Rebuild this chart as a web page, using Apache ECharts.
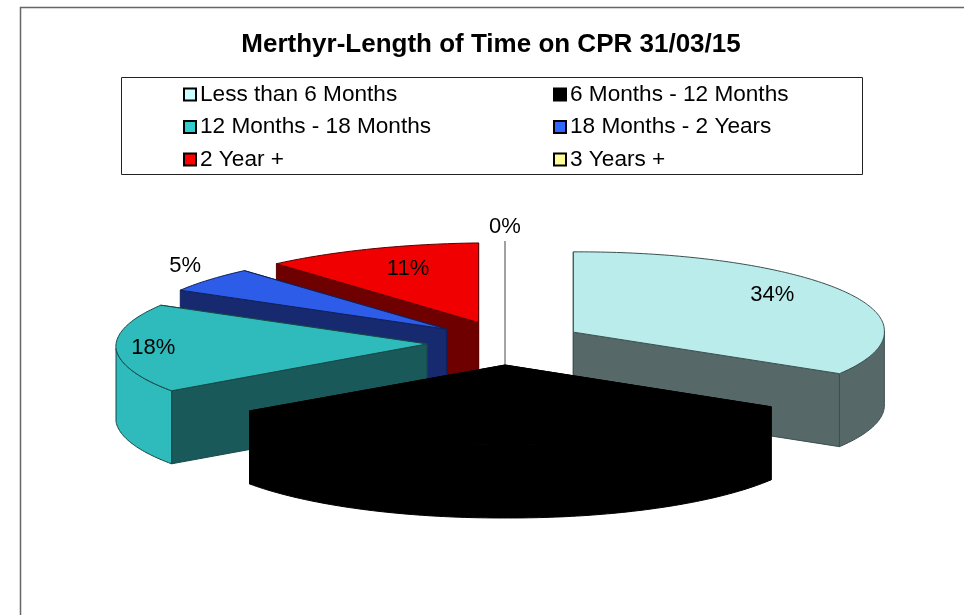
<!DOCTYPE html>
<html>
<head>
<meta charset="utf-8">
<title>Merthyr-Length of Time on CPR</title>
<style>
  html, body { margin: 0; padding: 0; background: #fff; }
  #chart { width: 964px; height: 615px; }
</style>
<script src="https://cdn.jsdelivr.net/npm/echarts@6/dist/echarts.min.js"></script>
</head>
<body>
<div id="chart"></div>
<script>
const categories = ["Less than 6 Months", "6 Months - 12 Months", "12 Months - 18 Months", "18 Months - 2 Years", "2 Year +", "3 Years +"];
const values = [34, 32, 18, 5, 11, 0];
const topColors = ["#BAECEC", "#000000", "#2FBBBB", "#2D5CE8", "#F00000", "#FFFF99"];
const wallColors = ["#566868", "#000000", "#1A5959", "#172A70", "#6E0000", "#FFFF99"];
const rimColors = ["#566868", "#000000", "#2FBBBB", "#172A70", "#6E0000", "#FFFF99"];
const legendColors = ["#CCFFFF", "#000000", "#33CCCC", "#3366FF", "#FF0000", "#FFFF99"];
const edgeColors = ["#3c5050", "#000000", "#154848", "#10205c", "#5a0000", "#a0a0a0"];
// how far out each percent label sits, 1 = on the rim (black one is not shown)
const labelReachX = [0.73, 0, 0.88, 1.12, 0.67, 1];
const labelReachY = [0.93, 0, 0, 1.27, 0.73, 1.17];
// back to front
const drawOrder = [5, 4, 3, 2, 0, 1];

const pie = { cx: 505, cy: 343, rx: 311, ry: 80, depth: 73, explodeX: 78, explodeY: 22 };
const total = values.reduce((a, b) => a + b, 0);

const rad = deg => deg * Math.PI / 180;

// start and end angle of a slice, clockwise from the top
function sliceAngles(index) {
  let start = 0;
  for (let i = 0; i < index; i++) start += values[i] / total * 360;
  return [start, start + values[index] / total * 360];
}

// the picture is a slightly warped 3d view, left side sits lower than the right
function tilt(p) {
  const dx = p[0] - pie.cx;
  return [p[0], p[1] - dx * (dx < 0 ? 0.012 : 0.004)];
}

function renderSlice(index, api) {
  const value = api.value(0);
  const [a0, a1] = sliceAngles(index);
  const mid = (a0 + a1) / 2;
  const apex = tilt([
    pie.cx + pie.explodeX * Math.sin(rad(mid)),
    pie.cy - pie.explodeY * Math.cos(rad(mid))
  ]);
  const rim = deg => {
    const s = Math.sin(rad(deg));
    const c = Math.cos(rad(deg));
    let lean = 0;
    if (c < 0) lean = (4 * s - 10) * c;
    else if (s < 0) lean = 4 * Math.sin(rad(2 * deg));
    return tilt([apex[0] + pie.rx * s + lean, apex[1] - pie.ry * c]);
  };
  const down = p => [p[0], p[1] + pie.depth];
  const stroke = { stroke: edgeColors[index], lineWidth: value === 0 ? 1.5 : 1 };

  const face = [apex];
  for (let d = a0; d < a1; d += 1) face.push(rim(d));
  face.push(rim(a1));

  const children = [];
  const wall = (deg) => ({
    type: "polygon",
    shape: { points: [apex, rim(deg), down(rim(deg)), down(apex)] },
    style: Object.assign({ fill: wallColors[index] }, stroke)
  });
  // the wall further back goes first
  if (rim(a0)[1] < rim(a1)[1]) children.push(wall(a0), wall(a1));
  else children.push(wall(a1), wall(a0));

  // outer wall, only the front part of the rim can be seen
  const from = Math.max(a0, 90);
  const to = Math.min(a1, 270);
  if (to > from) {
    const upper = [];
    const lower = [];
    for (let d = from; d < to; d += 1) upper.push(rim(d));
    upper.push(rim(to));
    upper.forEach(p => lower.unshift(down(p)));
    children.push({
      type: "polygon",
      shape: { points: upper.concat(lower) },
      style: Object.assign({ fill: rimColors[index] }, stroke)
    });
  }

  children.push({
    type: "polygon",
    shape: { points: face },
    style: Object.assign({ fill: value === 0 ? "none" : topColors[index] }, stroke)
  });

  if (labelReachX[index] > 0) {
    const pos = tilt([
      apex[0] + pie.rx * labelReachX[index] * Math.sin(rad(mid)),
      apex[1] - pie.ry * labelReachY[index] * Math.cos(rad(mid))
    ]);
    children.push({
      type: "text",
      z2: 10,
      style: {
        text: Math.round(value / total * 100) + "%",
        x: pos[0],
        y: pos[1],
        align: "center",
        verticalAlign: "middle",
        fill: "#000",
        font: '22px "Liberation Sans"'
      }
    });
  }
  return { type: "group", children: children };
}

const chart = echarts.init(document.getElementById("chart"), null, { renderer: "canvas" });

const legendBase = {
  orient: "vertical",
  top: 78,
  itemWidth: 12,
  itemHeight: 12,
  itemGap: 9.5,
  selectedMode: false,
  icon: "rect",
  itemStyle: { borderColor: "#000", borderWidth: 2 },
  textStyle: { fontFamily: "Liberation Sans", fontSize: 22.6, color: "#000", padding: [0, 0, 0, -1] }
};

chart.setOption({
  backgroundColor: "#fff",
  animation: false,
  title: {
    text: "Merthyr-Length of Time on CPR 31/03/15",
    left: 486,
    top: 27,
    textAlign: "center",
    textStyle: { fontFamily: "Liberation Sans", fontSize: 26, fontWeight: "bold", color: "#000" }
  },
  legend: [
    Object.assign({}, legendBase, { left: 178, data: [categories[0], categories[2], categories[4]] }),
    Object.assign({}, legendBase, { left: 548, data: [categories[1], categories[3], categories[5]] })
  ],
  graphic: [
    { type: "polyline", silent: true, shape: { points: [[20.5, 615], [20.5, 7.5], [964, 7.5]] }, style: { fill: "none", stroke: "#666", lineWidth: 1.5 } },
    { type: "rect", silent: true, shape: { x: 121.5, y: 77.5, width: 741, height: 97 }, style: { fill: "none", stroke: "#222", lineWidth: 1 } }
  ],
  series: drawOrder.map((index, order) => ({
    type: "custom",
    name: categories[index],
    coordinateSystem: "none",
    z: 2 + order,
    silent: true,
    itemStyle: { color: legendColors[index] },
    data: [[values[index]]],
    renderItem: (params, api) => renderSlice(index, api)
  }))
});
</script>
</body>
</html>
